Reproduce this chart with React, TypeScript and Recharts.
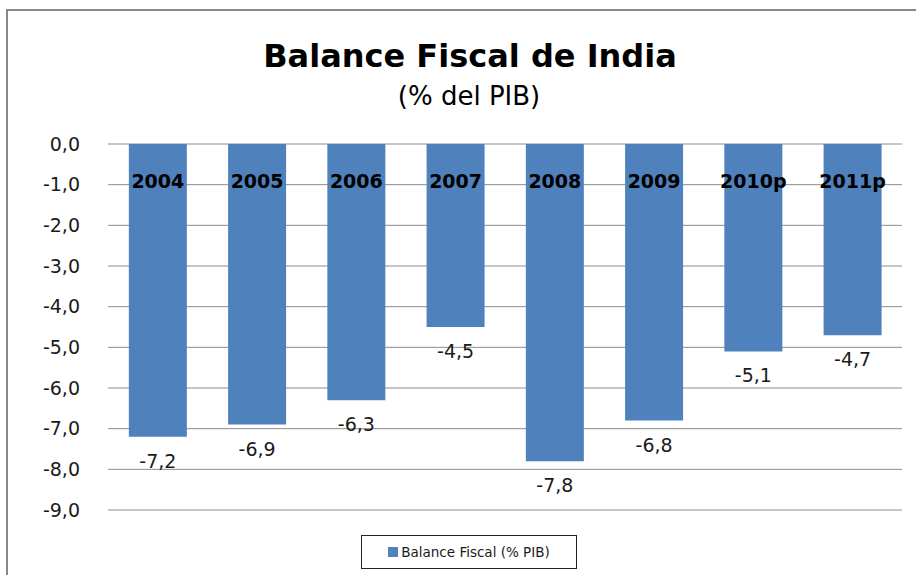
import React from "react";
import {
  BarChart,
  Bar,
  XAxis,
  YAxis,
  CartesianGrid,
  Legend,
  LabelList,
} from "recharts";

const years = ["2004", "2005", "2006", "2007", "2008", "2009", "2010p", "2011p"];
const balance = [-7.2, -6.9, -6.3, -4.5, -7.8, -6.8, -5.1, -4.7];
const yTicks = [0, -1, -2, -3, -4, -5, -6, -7, -8, -9];

const chartData = years.map((year, i) => ({ year, balance: balance[i] }));

const FONT = "'DejaVu Sans', Verdana, sans-serif";
const BLUE = "#4F81BD";

const fmt = (v: number) => v.toFixed(1).replace(".", ",");

// year names sit just under the zero line, over the bars
function YearLabel({ x, y, width, height, value }: any) {
  const top = Math.min(y, y + height);
  return (
    <text
      x={x + width / 2}
      y={top + 44}
      textAnchor="middle"
      fontFamily={FONT}
      fontWeight="bold"
      fontSize={19}
      fill="#000"
    >
      {value}
    </text>
  );
}

function ValueLabel({ x, y, width, height, value }: any) {
  const bottom = Math.max(y, y + height);
  return (
    <text
      x={x + width / 2}
      y={bottom + 31}
      textAnchor="middle"
      fontFamily={FONT}
      fontSize={19}
      fill="#1a1a1a"
    >
      {fmt(value)}
    </text>
  );
}

function LegendBox() {
  return (
    <div
      style={{
        boxSizing: "border-box",
        width: 216,
        height: 34,
        border: "1px solid #222",
        background: "#fff",
        display: "flex",
        alignItems: "center",
        justifyContent: "center",
        fontFamily: FONT,
        fontSize: 13.5,
        color: "#1a1a1a",
      }}
    >
      <span
        style={{ width: 10, height: 10, background: BLUE, marginRight: 3, display: "inline-block" }}
      />
      Balance Fiscal (% PIB)
    </div>
  );
}

export default function App() {
  return (
    <div
      style={{
        position: "absolute",
        left: 0,
        top: 0,
        width: 916,
        height: 575,
        overflow: "hidden",
        background: "#fff",
        fontFamily: FONT,
      }}
    >
      <svg width={916} height={575} style={{ position: "absolute", left: 0, top: 0 }}>
        <rect x={7} y={10} width={1000} height={1000} fill="none" stroke="#888" strokeWidth={2} />
        <text x={470} y={67} textAnchor="middle" fontFamily={FONT} fontWeight="bold" fontSize={32} fill="#000">
          Balance Fiscal de India
        </text>
        <text x={469} y={105} textAnchor="middle" fontFamily={FONT} fontSize={26} fill="#000">
          (% del PIB)
        </text>
      </svg>
      <div style={{ position: "absolute", left: 0, top: 0 }}>
        <BarChart
          width={916}
          height={575}
          data={chartData}
          margin={{ top: 144, right: 14, left: 0, bottom: 31 }}
          barCategoryGap="21%"
        >
          <CartesianGrid vertical={false} stroke="#8c8c8c" />
          <XAxis dataKey="year" orientation="top" height={0} hide />
          <YAxis
            width={108}
            domain={[-9, 0]}
            ticks={yTicks}
            tickFormatter={fmt}
            axisLine={false}
            tickLine={false}
            tickSize={0}
            tickMargin={28}
            tick={{ fontFamily: FONT, fontSize: 19, fill: "#1a1a1a" }}
          />
          <Bar dataKey="balance" fill={BLUE} isAnimationActive={false}>
            <LabelList dataKey="balance" content={<ValueLabel />} />
            <LabelList dataKey="year" content={<YearLabel />} />
          </Bar>
          <Legend
            verticalAlign="bottom"
            content={<LegendBox />}
            wrapperStyle={{ left: 361, top: 535, width: 216, height: 34 }}
          />
        </BarChart>
      </div>
    </div>
  );
}
